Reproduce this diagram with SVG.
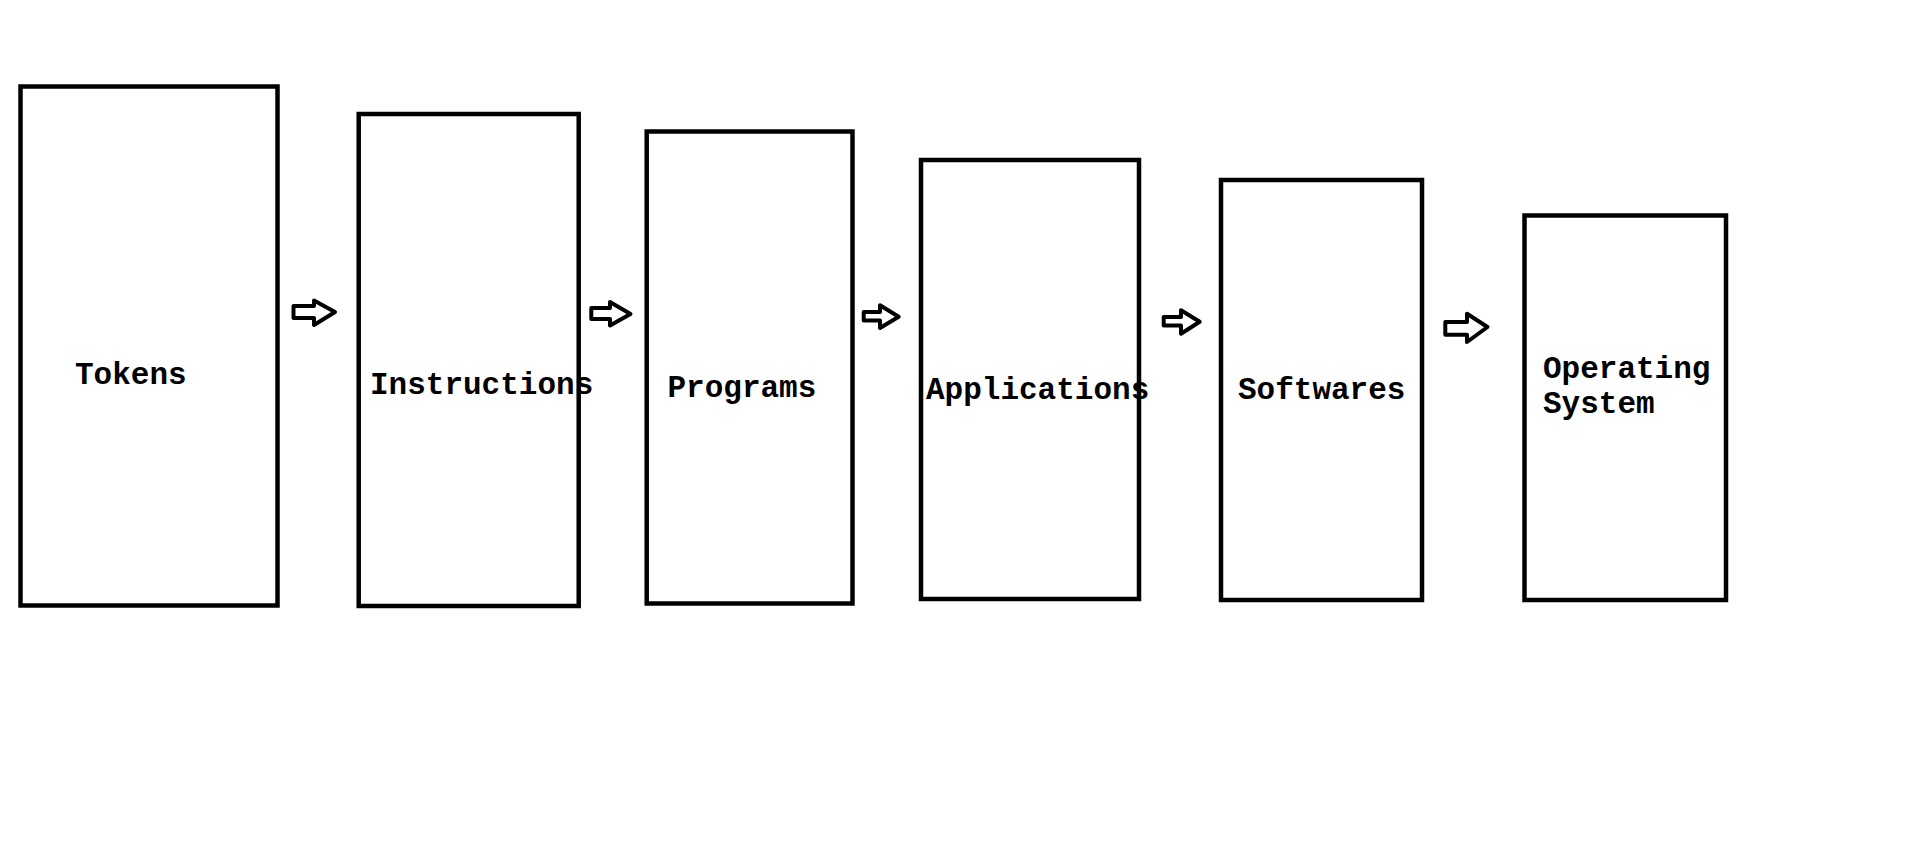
<svg xmlns="http://www.w3.org/2000/svg" width="1914" height="867" viewBox="0 0 1914 867">
<style>
.box{fill:none;stroke:#000;stroke-width:4.5}
.arr{fill:#fff;stroke:#000;stroke-width:4;stroke-linejoin:round}
.lbl{font-family:"Liberation Mono","Courier New",monospace;font-size:31px;font-weight:bold;fill:#000}
</style>
<rect width="1914" height="867" fill="#fff"/>
<g id="connectors">
<polygon class="arr" points="293.5,306 314,306 314,300.5 335,312 314,325 314,318 293.5,318"/>
<polygon class="arr" points="591.3,308 610,308 610,302 630.5,314 610,325.5 610,319 591.3,319"/>
<polygon class="arr" points="863.7,312 880,312 880,305.3 898.7,316.7 880,328 880,320.5 863.7,320.5"/>
<polygon class="arr" points="1163.7,317 1181,317 1181,310.3 1199.7,321.7 1181,333.7 1181,325.5 1163.7,325.5"/>
<polygon class="arr" points="1445.3,322 1467,322 1467,313.7 1487.5,327 1467,342 1467,334.7 1445.3,334.7"/>
</g>
<g id="tokens">
<rect class="box" x="20.5" y="86.5" width="257" height="519"/>
<text class="lbl" x="75" y="384">Tokens</text>
</g>
<g id="instructions">
<rect class="box" x="358.7" y="114" width="220" height="492"/>
<text class="lbl" x="370" y="393.5">Instructions</text>
</g>
<g id="programs">
<rect class="box" x="646.7" y="131.5" width="205.8" height="472"/>
<text class="lbl" x="667.5" y="397">Programs</text>
</g>
<g id="applications">
<rect class="box" x="921" y="160" width="218" height="439"/>
<text class="lbl" x="926" y="398.5">Applications</text>
</g>
<g id="softwares">
<rect class="box" x="1221" y="180" width="201" height="420"/>
<text class="lbl" x="1238" y="398.5">Softwares</text>
</g>
<g id="operating-system">
<rect class="box" x="1524.5" y="215.5" width="201.5" height="384.5"/>
<text class="lbl" x="1543" y="377.5">Operating</text>
<text class="lbl" x="1543" y="413">System</text>
</g>
</svg>
